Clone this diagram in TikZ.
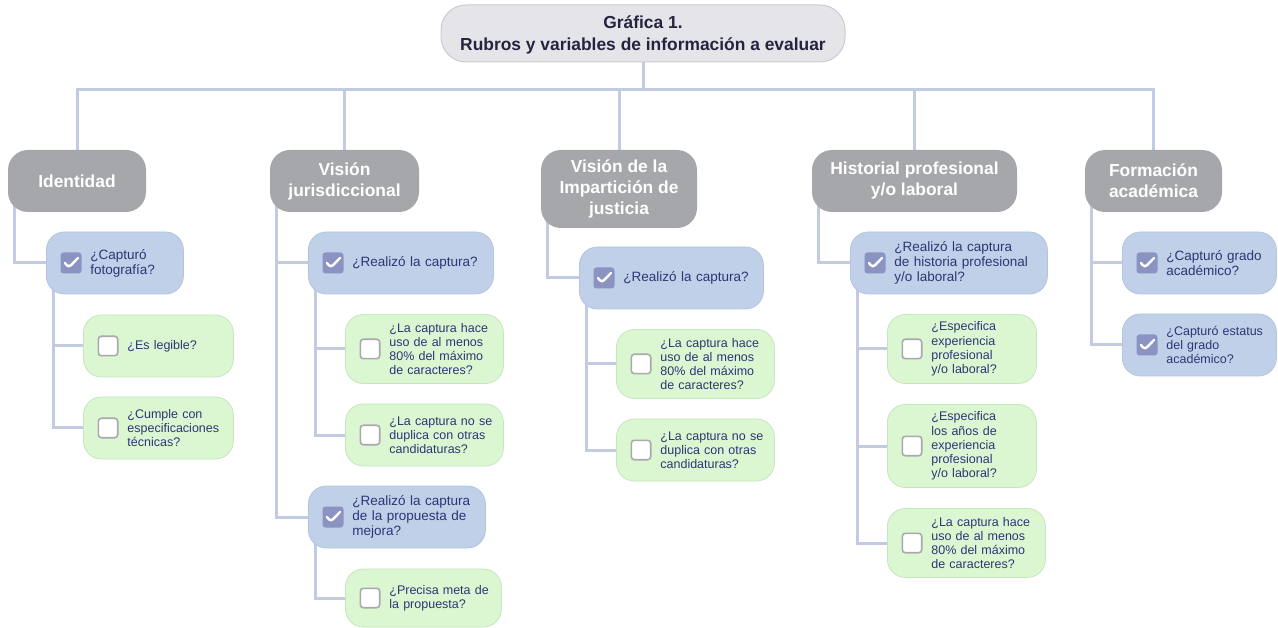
\documentclass[tikz,border=0pt]{standalone}
\usepackage{fontspec}
\setmainfont{Liberation Sans}
\usepackage{tikz}
\usetikzlibrary{backgrounds}
\newcommand{\boxSize}{21}
\newcommand{\askFont}{\fontsize{13.5}{15}\selectfont}
\newcommand{\subFont}{\fontsize{12.5}{14.2}\selectfont}
\definecolor{headFill}{HTML}{E4E4E9}
\definecolor{headLine}{HTML}{CBCBD0}
\definecolor{headInk}{HTML}{24243F}
\definecolor{catFill}{HTML}{A6A7AB}
\definecolor{askFill}{HTML}{BFD0E8}
\definecolor{askLine}{HTML}{B2C4DF}
\definecolor{subFill}{HTML}{DAF7D2}
\definecolor{subLine}{HTML}{C6E6BE}
\definecolor{ink}{HTML}{2E3575}
\definecolor{linkGray}{HTML}{C2CBE1}
\definecolor{tickFill}{HTML}{8B93C2}
\definecolor{tickLine}{HTML}{A9A9AD}

\begin{document}
\begin{tikzpicture}[x=1pt,y=-1pt,
  head/.style={draw=headLine,line width=1,fill=headFill,rounded corners=25,text=headInk,
    font=\fontsize{17.4}{22}\selectfont\bfseries,align=center,text depth=0pt,
    minimum width=404,minimum height=57},
  cat/.style={fill=catFill,rounded corners=20,text=white,font=\fontsize{17.4}{21}\selectfont\bfseries,
    align=center,inner sep=2,minimum height=62},
  ask/.style={draw=askLine,line width=0.8,fill=askFill,rounded corners=18,text=ink,font=\askFont,
    align=left,anchor=west,inner xsep=4,inner ysep=2,minimum height=62,
    execute at begin node={\leftskip=40pt}},
  sub/.style={ask,draw=subLine,fill=subFill,font=\subFont},
  boxon/.style={fill=tickFill,rounded corners=3,inner sep=0,minimum size=\boxSize,
    path picture={\draw[white,line width=2.4,line cap=round,line join=round]
      ([xshift=-6]path picture bounding box.center) -- ++(3.7,4.5) -- ++(9.3,-9.5);}},
  boxoff/.style={draw=tickLine,line width=1.6,fill=white,rounded corners=3,inner sep=0,
    minimum size=\boxSize-1.6},
  link/.style={draw=linkGray,line width=3}]
\useasboundingbox (0,0) rectangle (1278,628);

% title and the five headings
\node[head] (title) at (643,33.5) {Gráfica 1.\\Rubros y variables de información a evaluar};
\node[cat,minimum width=138] (cat1) at (77,181) {Identidad};
\node[cat,minimum width=149] (cat2) at (344.5,181) {Visión\\jurisdiccional};
\node[cat,minimum width=156,minimum height=78] (cat3) at (619,189) {Visión de la\\Impartición de\\justicia};
\node[cat,minimum width=205] (cat4) at (914.5,181) {Historial profesional\\y/o laboral};
\node[cat,minimum width=137] (cat5) at (1153.5,181) {Formación\\académica};

% Identidad
\node[ask,text width=129] (a1) at (46,263) {¿Capturó\\fotografía?};
\node[sub,text width=142] (a1g1) at (83,346) {¿Es legible?};
\node[sub,text width=142] (a1g2) at (83,428) {¿Cumple con\\especificaciones\\técnicas?};

% Vision jurisdiccional
\node[ask,text width=177] (b1) at (308,263) {¿Realizó la captura?};
\node[sub,text width=150,minimum height=69] (b1g1) at (345,349) {¿La captura hace\\uso de al menos\\80\% del máximo\\de caracteres?};
\node[sub,text width=150] (b1g2) at (345,435) {¿La captura no se\\duplica con otras\\candidaturas?};
\node[ask,text width=169] (b2) at (308,517) {¿Realizó la captura\\de la propuesta de\\mejora?};
\node[sub,text width=148,minimum height=58] (b2g1) at (345,598) {¿Precisa meta de\\la propuesta?};

% Vision de la imparticion
\node[ask,text width=176] (c1) at (579,278) {¿Realizó la captura?};
\node[sub,text width=150,minimum height=69] (c1g1) at (616,364) {¿La captura hace\\uso de al menos\\80\% del máximo\\de caracteres?};
\node[sub,text width=150] (c1g2) at (616,450) {¿La captura no se\\duplica con otras\\candidaturas?};

% Historial
\node[ask,text width=189] (d1) at (850,263) {¿Realizó la captura\\de historia profesional\\y/o laboral?};
\node[sub,text width=141,minimum height=69] (d1g1) at (887,349) {¿Especifica\\experiencia\\profesional\\y/o laboral?};
\node[sub,text width=141,minimum height=83] (d1g2) at (887,446) {¿Especifica\\los años de\\experiencia\\profesional\\y/o laboral?};
\node[sub,text width=150,minimum height=69] (d1g3) at (887,543) {¿La captura hace\\uso de al menos\\80\% del máximo\\de caracteres?};

% Formacion
\node[ask,text width=146] (e1) at (1122,263) {¿Capturó grado\\académico?};
\node[ask,text width=146,font=\subFont] (e2) at (1122,345) {¿Capturó estatus\\del grado\\académico?};

% check boxes
\foreach \n in {a1,b1,b2,c1,d1,e1,e2}
  \node[boxon] (\n-chk) at ([xshift=25]\n.west) {};
\foreach \n in {a1g1,a1g2,b1g1,b1g2,b2g1,c1g1,c1g2,d1g1,d1g2,d1g3}
  \node[boxoff] (\n-chk) at ([xshift=25]\n.west) {};

\begin{scope}[on background layer]
\foreach \c in {cat1,cat2,cat3,cat4,cat5}
  \draw[link] (title.south) -- ++(0,27) -| (\c.north);
\foreach \p/\c in {cat1/a1,a1/a1g1,a1/a1g2,cat2/b1,b1/b1g1,b1/b1g2,cat2/b2,b2/b2g1,
    cat3/c1,c1/c1g1,c1/c1g2,cat4/d1,d1/d1g1,d1/d1g2,d1/d1g3,cat5/e1,cat5/e2}
  \draw[link] ([xshift=7]\p.west) |- (\c.west);
\end{scope}
\end{tikzpicture}
\end{document}
